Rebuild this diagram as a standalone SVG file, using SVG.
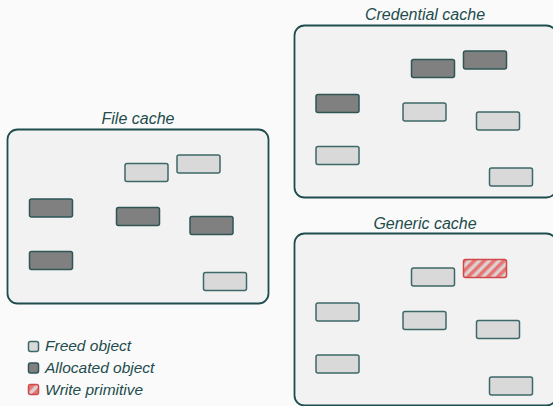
<svg xmlns="http://www.w3.org/2000/svg" width="553" height="406" viewBox="0 0 553 406">
<defs>
<pattern id="hatch" width="7" height="7" patternUnits="userSpaceOnUse" patternTransform="rotate(45)">
<rect width="7" height="7" fill="#dcd0d0"/>
<rect width="3.5" height="7" fill="#e87474"/>
</pattern>
</defs>
<style>
.cache{fill:#f2f2f2;stroke:#1f4d4d;stroke-width:1.8}
.title{font-family:"Liberation Sans",Arial,sans-serif;font-style:italic;font-size:16px;fill:#234c4c;text-anchor:middle}
.free{fill:#d9d9d9;stroke:#3e6868;stroke-width:1.5}
.alloc{fill:#808080;stroke:#2f5555;stroke-width:1.5}
.write{fill:url(#hatch);stroke:#d04848;stroke-width:1.5}
.leg{font-family:"Liberation Sans",Arial,sans-serif;font-style:italic;font-size:15.5px;fill:#234c4c}
</style>
<rect width="553" height="406" fill="#fafafa"/>
<g id="file-cache">
<rect class="cache" x="7.5" y="129.5" width="261" height="174" rx="10"/>
<text class="title" x="138" y="124">File cache</text>
<rect class="free" x="125" y="163.5" width="43" height="18" rx="2"/>
<rect class="free" x="177" y="155" width="43" height="18" rx="2"/>
<rect class="alloc" x="29.5" y="199" width="43" height="18" rx="2"/>
<rect class="alloc" x="116.5" y="207.5" width="43" height="18" rx="2"/>
<rect class="alloc" x="190" y="216.5" width="43" height="18" rx="2"/>
<rect class="alloc" x="29.5" y="251.5" width="43" height="18" rx="2"/>
<rect class="free" x="203.5" y="272.5" width="43" height="18" rx="2"/>
</g>
<g id="credential-cache">
<rect class="cache" x="294.5" y="25.5" width="262" height="172" rx="10"/>
<text class="title" x="425" y="20">Credential cache</text>
<rect class="alloc" x="411.5" y="59.5" width="43" height="18" rx="2"/>
<rect class="alloc" x="463.5" y="51" width="43" height="18" rx="2"/>
<rect class="alloc" x="316" y="94.5" width="43" height="18" rx="2"/>
<rect class="free" x="403" y="103" width="43" height="18" rx="2"/>
<rect class="free" x="476.5" y="112" width="43" height="18" rx="2"/>
<rect class="free" x="316" y="146.5" width="43" height="18" rx="2"/>
<rect class="free" x="489.5" y="168" width="43" height="18" rx="2"/>
</g>
<g id="generic-cache">
<rect class="cache" x="294.5" y="233.5" width="262" height="172" rx="10"/>
<text class="title" x="425" y="229">Generic cache</text>
<rect class="write" x="463.5" y="259.5" width="43" height="18" rx="2"/>
<rect class="free" x="411.5" y="268" width="43" height="18" rx="2"/>
<rect class="free" x="316" y="303" width="43" height="18" rx="2"/>
<rect class="free" x="403" y="311.5" width="43" height="18" rx="2"/>
<rect class="free" x="476.5" y="320.5" width="43" height="18" rx="2"/>
<rect class="free" x="316" y="355" width="43" height="18" rx="2"/>
<rect class="free" x="489.5" y="377" width="43" height="18" rx="2"/>
</g>
<g id="legend">
<rect class="free" x="28.5" y="341.5" width="10" height="10" rx="2"/>
<text class="leg" x="45" y="351">Freed object</text>
<rect class="alloc" x="28.5" y="363" width="10" height="10" rx="2"/>
<text class="leg" x="45" y="373">Allocated object</text>
<rect class="write" x="28.5" y="384.5" width="10" height="10" rx="2"/>
<text class="leg" x="45" y="394.5">Write primitive</text>
</g>
<g id="connectors"/>
</svg>
